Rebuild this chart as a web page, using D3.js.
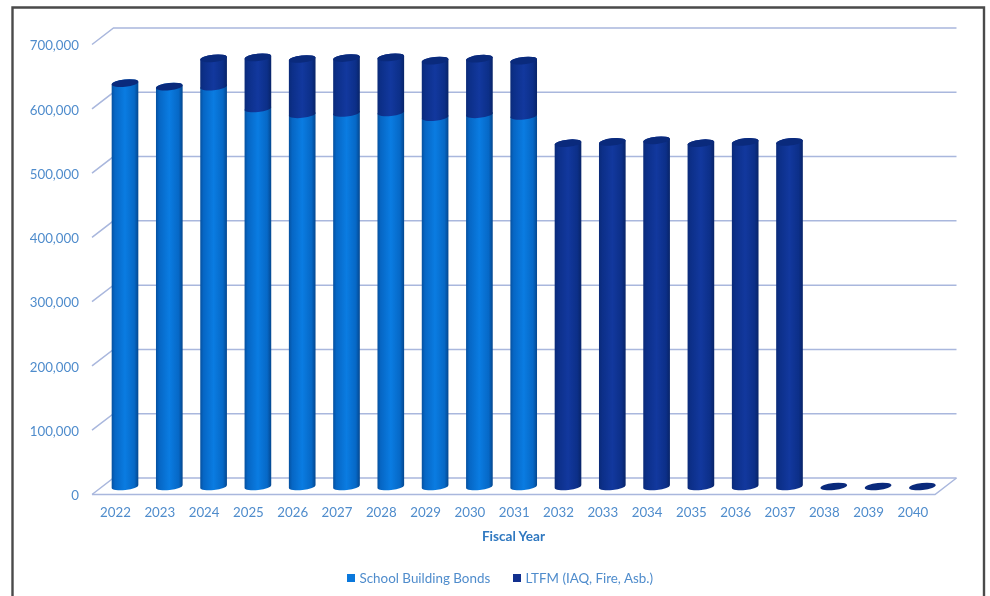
<!DOCTYPE html>
<html><head><meta charset="utf-8">
<script src="https://cdn.jsdelivr.net/npm/d3@7/dist/d3.min.js"></script>
<style>html,body{margin:0;padding:0;background:#fff}svg{display:block;filter:blur(.5px)}text{font-family:Lato,"Open Sans",sans-serif}</style>
</head><body><div id="c"></div>
<script>
const years = ["2022","2023","2024","2025","2026","2027","2028","2029","2030","2031","2032","2033","2034","2035","2036","2037","2038","2039","2040"];
const schoolBonds = [627500,622000,622000,588000,579000,581000,582000,574500,579000,576500,0,0,0,0,0,0,0,0,0];
const ltfm = [0,0,44000,79500,86000,85500,85500,88000,86500,86000,534000,536000,538500,534000,536000,536000,0,0,0];
const seriesNames = ["School Building Bonds","LTFM (IAQ, Fire, Asb.)"];
const yTicks = [0,100000,200000,300000,400000,500000,600000,700000];

const W=990,H=596;
const svg=d3.select("#c").append("svg").attr("width",W).attr("height",H);
const defs=svg.append("defs");
function grad(id,stops){
  const g=defs.append("linearGradient").attr("id",id).attr("x1",0).attr("x2",1).attr("y1",0).attr("y2",0);
  stops.forEach(([o,c])=>g.append("stop").attr("offset",o).attr("stop-color",c));
}
grad("gs",[[0,"#05509f"],[.12,"#0666c4"],[.5,"#0a7ce2"],[.85,"#0668c6"],[1,"#04478f"]]);
grad("gl",[[0,"#0a2a78"],[.12,"#0c2f88"],[.5,"#12389e"],[.85,"#0c2f88"],[1,"#082468"]]);
const colS="url(#gs)",colL="url(#gl)",capCol="#0a2a7c";

// frame
svg.append("path").attr("d","M12.5,600V7.5H984V600").attr("fill","none").attr("stroke","#4a4a4a").attr("stroke-width",2.4);

// scales: front plane of the 3D box
const depthX=21.5, depthY=-16.5;
const xFront=d3.scalePoint().domain(years).range([115,912.4]);
const yFront=d3.scaleLinear().domain([0,700000]).range([494.5,44.5]);
const gridCol="#a9b7dd";

// walls + floor
const grid=svg.append("g").attr("fill","none").attr("stroke",gridCol).attr("stroke-width",1.5);
const x0=92,x1=935;
yTicks.forEach(t=>{
  const y=yFront(t);
  grid.append("path").attr("d",`M${x0},${y}L${x0+depthX},${y+depthY}L${x1+depthX},${y+depthY}`);
});
grid.append("path").attr("d",`M${x0},${yFront(0)}L${x1},${yFront(0)}L${x1+depthX},${yFront(0)+depthY}`);

// cylinders
const barOffX=10, barOffY=-8, rx=13.4, ry=3.6, tilt=-6;
const cx=d=>xFront(d)+barOffX;
const cy=v=>yFront(v)+barOffY;
function bodyPath(c,yb,yt){
  const a=tilt*Math.PI/180, ex=rx*Math.cos(a), ey=rx*Math.sin(a);
  const L=c-ex,R=c+ex;
  return `M${L},${yt-ey}L${L},${yb-ey}A${rx},${ry} ${tilt} 0 0 ${R},${yb+ey}L${R},${yt+ey}A${rx},${ry} ${tilt} 0 0 ${L},${yt-ey}Z`;
}
const bars=svg.append("g");
years.forEach((yr,i)=>{
  const a=schoolBonds[i],b=ltfm[i],c=cx(yr),total=a+b;
  if(a>0) bars.append("path").attr("d",bodyPath(c,cy(0),cy(a))).attr("fill",colS);
  if(b>0) bars.append("path").attr("d",bodyPath(c,cy(a),cy(total))).attr("fill",colL);
  const top=cy(total);
  bars.append("ellipse").attr("cx",c).attr("cy",top).attr("rx",rx).attr("ry",ry)
    .attr("transform",`rotate(${tilt} ${c} ${top})`).attr("fill",capCol);
});

// axes
const tickCol="#4f8ccc";
const yAxis=d3.axisLeft(yFront).tickValues(yTicks).tickSize(0).tickPadding(0).tickFormat(d3.format(","));
const gy=svg.append("g").attr("transform","translate(79,1)").call(yAxis);
const xAxis=d3.axisBottom(xFront).tickSize(0).tickPadding(0);
const gx=svg.append("g").attr("transform","translate(0,508)").call(xAxis);
[gy,gx].forEach(g=>{g.select(".domain").remove();
  g.selectAll("text").attr("fill",tickCol).style("font-size","13.3px").style("font-family","Lato,'Open Sans',sans-serif");});

svg.append("text").attr("x",513.5).attr("y",540.5).attr("text-anchor","middle")
  .attr("fill","#2f78c0").style("font-size","13.6px").style("font-weight",700).text("Fiscal Year");

// legend
const lg=[{x:347,c:"#0a78dc"},{x:513,c:"#12308e"}];
seriesNames.forEach((n,i)=>{
  svg.append("rect").attr("x",lg[i].x).attr("y",574).attr("width",8).attr("height",8).attr("fill",lg[i].c);
  svg.append("text").attr("x",lg[i].x+12.5).attr("y",582.5).attr("fill",tickCol).style("font-size","13.4px").text(n);
});
</script></body></html>
